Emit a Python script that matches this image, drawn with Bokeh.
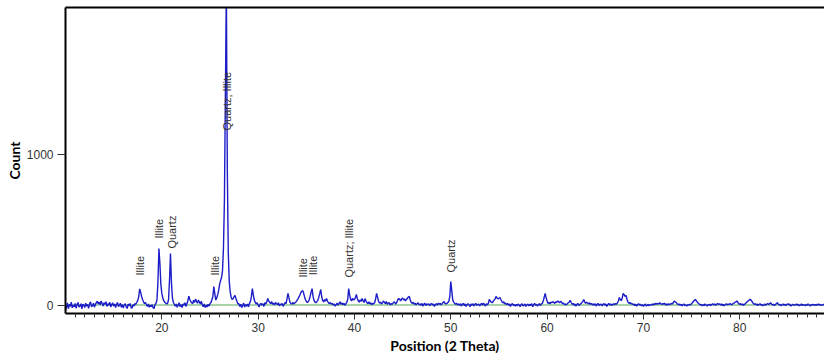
import numpy as np
from bokeh.plotting import figure
from bokeh.models import ColumnDataSource, FixedTicker, LinearAxis, Range1d
from bokeh.core.properties import value
from bokeh.embed import file_html
from bokeh.resources import INLINE

# Diffractogram: counts sampled every 0.1 degree 2-theta, one row per degree
theta_start = 10.0
theta_step = 0.1
counts_rows = [
    [-30, -12, 18, -20, 8, -6, 22, -15, 3, -9],          # 10
    [14, -18, 6, 20, -10, -3, 12, -22, 9, 2],            # 11
    [-14, 16, -5, 7, -19, 11, 24, -8, -2, 15],           # 12
    [-11, 6, 19, 28, 10, 22, 5, 30, 14, -4],             # 13
    [18, 8, 25, -6, 12, 2, 21, -9, 6, 17],               # 14
    [-3, 10, -14, 8, 20, -7, 3, 15, -12, 6],             # 15
    [-16, 4, 12, -8, -20, 9, -2, 14, -11, -18],          # 16
    [6, -4, 12, 8, 20, 34, 58, 110, 88, 60],             # 17
    [40, 25, 12, 20, 5, -6, 10, -12, 2, -8],             # 18
    [6, -15, -20, 8, 14, 40, 160, 377, 280, 140],        # 19
    [80, 50, 32, 22, 16, 10, 14, 40, 170, 344],          # 20
    [150, 50, 20, 8, -5, 10, -12, 4, 18, -8],            # 21
    [6, -14, 10, 2, 18, -6, 12, 30, 62, 40],             # 22
    [28, 18, 12, 35, 20, 42, 28, 15, 36, 22],            # 23
    [10, 28, 5, -8, 10, -14, 2, -10, 8, -4],             # 24
    [12, 20, 38, 60, 126, 78, 36, 50, 72, 100],          # 25
    [140, 165, 185, 230, 380, 700, 1400, 2100, 900, 350],  # 26
    [160, 90, 55, 40, 45, 58, 66, 45, 28, 12],           # 27
    [12, -6, 8, -14, 2, 16, -10, 6, -4, 10],             # 28
    [-8, 14, 26, 60, 112, 70, 36, 20, 10, 18],           # 29
    [4, -10, 8, 14, 2, 12, -6, 18, 10, 24],              # 30
    [46, 30, 20, 12, 26, 8, 16, 4, 20, 12],              # 31
    [6, 18, -2, 10, 4, 14, -6, 8, 20, 12],               # 32
    [45, 80, 50, 22, 14, 8, 20, 10, 16, 22],             # 33
    [30, 40, 52, 65, 80, 92, 99, 88, 62, 40],            # 34
    [28, 20, 25, 38, 60, 90, 112, 60, 34, 22],           # 35
    [18, 26, 34, 55, 80, 106, 58, 32, 24, 40],           # 36
    [28, 46, 30, 18, 12, 20, 8, 14, 4, 10],              # 37
    [-4, 6, 16, 2, 12, 24, 8, 18, 6, 14],                # 38
    [2, 10, 20, 40, 112, 70, 40, 30, 48, 38],            # 39
    [40, 52, 73, 45, 30, 22, 38, 28, 46, 30],            # 40
    [20, 46, 30, 18, 12, 24, 10, 18, 6, 14],             # 41
    [10, 20, 45, 80, 55, 28, 16, 22, 10, 18],            # 42
    [30, 22, 12, 26, 8, 16, 20, 4, 12, 8],               # 43
    [16, 24, 18, 10, 22, 38, 46, 40, 30, 44],            # 44
    [50, 36, 44, 30, 40, 48, 56, 60, 34, 20],            # 45
    [14, 22, 8, 16, 4, 12, 18, 6, 10, 2],                # 46
    [14, -4, 8, 16, 0, 10, 6, 12, -2, 8],                # 47
    [14, 4, 10, -6, 6, 12, 2, 16, 8, 14],                # 48
    [4, 12, 20, 26, 14, 10, 14, 20, 28, 60],             # 49
    [159, 100, 40, 22, 14, 8, 16, 4, 10, 2],             # 50
    [12, -4, 8, 14, 0, 10, -6, 6, 12, 4],                # 51
    [-8, 10, 2, 12, -4, 8, 14, 0, 6, 10],                # 52
    [-2, 8, 14, 2, 16, 6, -4, 12, 4, 14],                # 53
    [40, 30, 22, 18, 28, 36, 44, 60, 50, 44],            # 54
    [48, 53, 40, 28, 18, 24, 10, 16, 6, 14],             # 55
    [2, 10, -6, 8, 12, 0, 6, -4, 8, -2],                 # 56
    [10, 4, -8, 6, 12, -4, 2, 10, -6, 4],                # 57
    [10, -2, 8, 0, 12, -8, 4, 14, 2, 8],                 # 58
    [-4, 6, 12, 0, 10, 14, 30, 55, 80, 50],              # 59
    [30, 14, 20, 10, 22, 18, 26, 20, 14, 24],            # 60
    [20, 30, 26, 18, 28, 22, 12, 16, 6, 10],             # 61
    [4, 12, 18, 22, 35, 20, 8, 14, 2, 10],               # 62
    [-4, 8, 14, 0, 6, 12, 18, 26, 40, 24],               # 63
    [14, 22, 16, 10, 18, 8, 14, 4, 10, 2],               # 64
    [12, -4, 8, 14, 0, 6, 10, -2, 8, 12],                # 65
    [2, 10, -6, 6, 14, 4, 10, 0, 6, 12],                 # 66
    [4, 14, 8, 18, 30, 53, 40, 32, 50, 80],              # 67
    [72, 60, 66, 40, 22, 14, 20, 10, 14, 6],             # 68
    [10, 0, 8, -4, 6, 12, 2, 8, -2, 6],                  # 69
    [-6, 4, 10, -4, 2, 8, -2, 6, 4, 10],                 # 70
    [2, 12, 6, 16, 8, 14, 10, 18, 12, 6],                # 71
    [14, 8, 16, 4, 10, 2, 12, 6, 8, 14],                 # 72
    [10, 18, 30, 24, 20, 12, 6, 10, 2, 8],               # 73
    [-2, 6, 10, 0, 4, -4, 6, 2, 8, 4],                   # 74
    [12, 20, 28, 34, 40, 30, 22, 14, 10, 4],             # 75
    [8, -2, 6, 0, 10, 4, -4, 6, 2, 8],                   # 76
    [0, 6, 12, 4, 10, 2, 8, 14, 6, 12],                  # 77
    [4, 10, 0, 8, -2, 6, 12, 4, 10, 6],                  # 78
    [14, 8, 4, 12, 16, 20, 24, 30, 20, 12],              # 79
    [8, 12, 4, 10, 2, 8, 14, 20, 26, 32],                # 80
    [38, 40, 34, 24, 14, 8, 12, 4, 10, 0],               # 81
    [6, 12, 2, 8, -2, 4, 10, 2, 8, 14],                  # 82
    [6, 12, 18, 10, 4, 8, 0, 6, 12, 18],                 # 83
    [10, 4, 8, -2, 6, 10, 2, 8, 0, 6],                   # 84
    [12, 4, 10, -4, 2, 8, 4, 0, 6, 10],                  # 85
    [2, 8, -2, 4, 10, 0, 6, 4, -2, 8],                   # 86
    [2, 10, 4, -4, 6, 2, 8, 2, 6, 0],                    # 87
    [8, 4, 10, 2, 6, 0, 4, 8, 2],                        # 88
]
counts = [c for row in counts_rows for c in row]
theta = theta_start + theta_step * np.arange(len(counts))

# Fitted background
background_theta = [10.0, 88.8]
background_counts = [4, 4]

# Phase identifications
label_text = ["Illite", "Illite", "Quartz", "Illite", "Quartz; Illite",
              "Illite", "Illite", "Quartz; Illite", "Quartz"]
label_theta = [17.76, 19.73, 21.08, 25.53, 26.77, 34.64, 35.67, 39.40, 50.06]
label_counts = [199, 444, 377, 199, 1159, 185, 200, 185, 219]

x_ticks = [20, 30, 40, 50, 60, 70, 80]
y_ticks = [0, 1000]

p = figure(width=824, height=356, output_backend="svg", toolbar_location=None,
           x_range=Range1d(10, 88.8), y_range=Range1d(-53, 1974),
           min_border_left=65, min_border_right=0, min_border_top=7,
           min_border_bottom=43, outline_line_color=None,
           background_fill_color="white", border_fill_color="white")
p.xgrid.visible = False
p.ygrid.visible = False

p.line(background_theta, background_counts, line_color="#8cc68c", line_width=1.5)
p.line(theta, counts, line_color="#1c1cc8", line_width=1.4)

src = ColumnDataSource(dict(x=label_theta, y=label_counts, text=label_text))
p.text(x="x", y="y", text="text", source=src, angle=np.pi / 2,
       text_font=value("Liberation Sans"), text_font_size="11px",
       text_align="left", text_baseline="middle", text_color="#333333")

tick_font = "Liberation Sans"
for ax in (p.xaxis[0], p.yaxis[0]):
    ax.axis_line_width = 2
    ax.axis_line_color = "black"
    ax.major_tick_in = 0
    ax.minor_tick_in = 0
    ax.major_tick_line_color = "#333333"
    ax.minor_tick_line_color = "#333333"
    ax.major_label_text_font = tick_font
    ax.major_label_text_font_size = "12px"
    ax.major_label_text_color = "#333333"
    ax.axis_label_text_font = "Lato"
    ax.axis_label_text_font_style = "bold"
    ax.axis_label_text_font_size = "14px"
    ax.axis_label_text_color = "black"

p.xaxis.ticker = FixedTicker(ticks=x_ticks, minor_ticks=list(range(11, 89)))
p.xaxis.major_tick_out = 6
p.xaxis.minor_tick_out = 4
p.xaxis.major_label_standoff = 3
p.xaxis.axis_label = "Position (2 Theta)"
p.xaxis.axis_label_standoff = 2

p.yaxis.ticker = FixedTicker(ticks=y_ticks)
p.yaxis.major_tick_out = 8
p.yaxis.minor_tick_out = 0
p.yaxis.major_label_standoff = 4
p.yaxis.axis_label = "Count"
p.yaxis.axis_label_standoff = 1

top = LinearAxis(ticker=FixedTicker(ticks=[]), axis_line_width=2,
                 axis_line_color="black", major_tick_out=0, minor_tick_out=0,
                 major_label_text_font_size="0px")
p.add_layout(top, "above")

open("out.html", "w").write(file_html(p, INLINE))
